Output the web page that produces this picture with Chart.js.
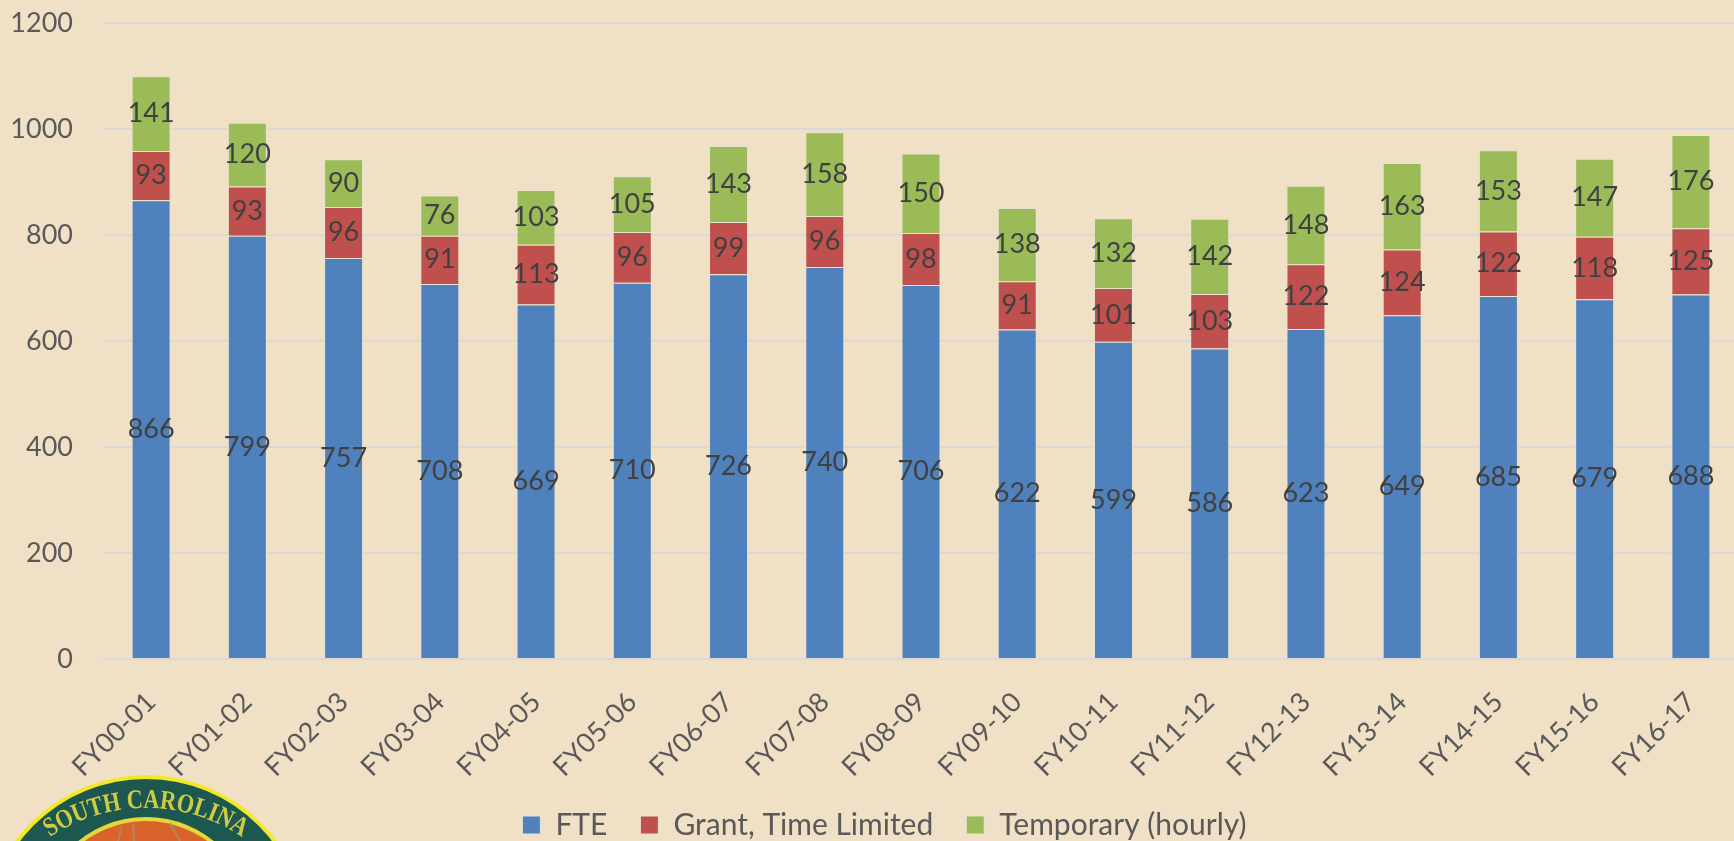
<!DOCTYPE html>
<html>
<head>
<meta charset="utf-8">
<title>Staffing by fiscal year</title>
<script src="https://cdn.jsdelivr.net/npm/chart.js@4"></script>
<style>
  html, body { margin: 0; padding: 0; width: 1734px; height: 841px; overflow: hidden; background: #f0e1c6; }
  /* canvas runs past the window on purpose, the reference plot is cut off on the right */
  #wrap { position: relative; width: 1770px; height: 873px; margin-top: -23px; }
</style>
</head>
<body>
<div id="wrap"><canvas id="myChart"></canvas></div>
<script>
// x-axis ticks
const years = ["FY00-01", "FY01-02", "FY02-03", "FY03-04", "FY04-05", "FY05-06", "FY06-07", "FY07-08", "FY08-09",
  "FY09-10", "FY10-11", "FY11-12", "FY12-13", "FY13-14", "FY14-15", "FY15-16", "FY16-17"];
// data points
const fte = [866, 799, 757, 708, 669, 710, 726, 740, 706, 622, 599, 586, 623, 649, 685, 679, 688];
const grant = [93, 93, 96, 91, 113, 96, 99, 96, 98, 91, 101, 103, 122, 124, 122, 118, 125];
const temporary = [141, 120, 90, 76, 103, 105, 143, 158, 150, 138, 132, 142, 148, 163, 153, 147, 176];

const font = "Lato, Carlito, Calibri, sans-serif";

// numbers in the middle of each bar segment
const segmentLabels = {
  id: "segmentLabels",
  afterDatasetsDraw(chart) {
    const ctx = chart.ctx;
    ctx.save();
    ctx.font = "27px " + font;
    ctx.fillStyle = "#404040";
    ctx.textAlign = "center";
    ctx.textBaseline = "middle";
    chart.data.datasets.forEach((ds, i) => {
      chart.getDatasetMeta(i).data.forEach((bar, j) => {
        ctx.fillText(ds.data[j], bar.x, (bar.y + bar.base) / 2);
      });
    });
    ctx.restore();
  }
};

// legend sits centred on the whole picture, not on the plot
const shiftLegend = {
  id: "shiftLegend",
  afterLayout(chart) {
    chart.legend.left += 15;
    chart.legend.right += 15;
  }
};

// the round seal cut off by the bottom left corner
const seal = {
  id: "seal",
  beforeDraw(chart) {
    const ctx = chart.ctx;
    const rings = [[146, 938, 163, "#f3e826"], [146, 938, 159, "#1d5850"], [146, 925, 108, "#e3d73a"], [146, 925, 104, "#d9632a"]];
    ctx.save();
    ctx.translate(0, 23);
    rings.forEach(([x, y, r, color]) => {
      ctx.beginPath();
      ctx.arc(x, y, r, 0, Math.PI * 2);
      ctx.fillStyle = color;
      ctx.fill();
    });
    // faint marks inside the orange part
    ctx.strokeStyle = "#a98a62";
    ctx.lineWidth = 2;
    [[118, 841, 122, 826], [134, 841, 133, 824], [170, 823, 180, 841]].forEach(([x1, y1, x2, y2]) => {
      ctx.beginPath();
      ctx.moveTo(x1, y1);
      ctx.lineTo(x2, y2);
      ctx.stroke();
    });
    // curved name, squeezed to fit its arc
    const text = "SOUTH CAROLINA";
    const cx = 146, cy = 981, radius = 173, arc = 204;
    ctx.font = "bold 27px 'Liberation Serif', serif";
    ctx.fillStyle = "#cfcb45";
    ctx.textAlign = "center";
    ctx.textBaseline = "alphabetic";
    const total = ctx.measureText(text).width;
    const fit = arc / total;
    let done = 0;
    [...text].forEach((ch) => {
      const w = ctx.measureText(ch).width;
      const a = ((done + w / 2) * fit - arc / 2) / radius;
      ctx.save();
      ctx.translate(cx + Math.sin(a) * radius, cy - Math.cos(a) * radius);
      ctx.rotate(a);
      ctx.scale(fit, 1);
      ctx.fillText(ch, 0, 0);
      ctx.restore();
      done += w;
    });
    ctx.restore();
  }
};

const ctx = document.getElementById("myChart");
const myChart = new Chart(ctx, {
  type: "bar",
  data: {
    labels: years,
    datasets: [
      { label: "FTE", data: fte, backgroundColor: "#4f81bd" },
      { label: "Grant, Time Limited", data: grant, backgroundColor: "#c0504d" },
      { label: "Temporary (hourly)", data: temporary, backgroundColor: "#9bbb59" }
    ]
  },
  options: {
    responsive: true,
    maintainAspectRatio: false,
    animation: false,
    layout: { autoPadding: false, padding: { top: 22, right: 31, left: 0, bottom: 0 } },
    datasets: { bar: { barPercentage: 0.405, categoryPercentage: 1, borderWidth: 1, borderColor: "#e6e3cf" } },
    scales: {
      x: {
        stacked: true,
        afterFit(axis) { axis.height = 118; },
        grid: { display: false, drawTicks: false },
        border: { color: "#d9d9d9", width: 2 },
        ticks: { color: "#595959", font: { family: font, size: 27 }, maxRotation: 45, minRotation: 45, padding: 27, autoSkip: false }
      },
      y: {
        stacked: true,
        min: 0,
        max: 1200,
        afterFit(axis) { axis.width = 103; },
        grid: { color: "#d9d9d9", lineWidth: 2, drawTicks: false },
        border: { display: false },
        ticks: { stepSize: 200, color: "#595959", font: { family: font, size: 27 }, padding: 30, callback: (v) => String(v) }
      }
    },
    plugins: {
      legend: {
        position: "bottom",
        labels: { boxWidth: 18, boxHeight: 18, padding: 33, color: "#595959", font: { family: font, size: 30 } }
      },
      tooltip: { enabled: false }
    }
  },
  plugins: [seal, shiftLegend, segmentLabels]
});
</script>
</body>
</html>
